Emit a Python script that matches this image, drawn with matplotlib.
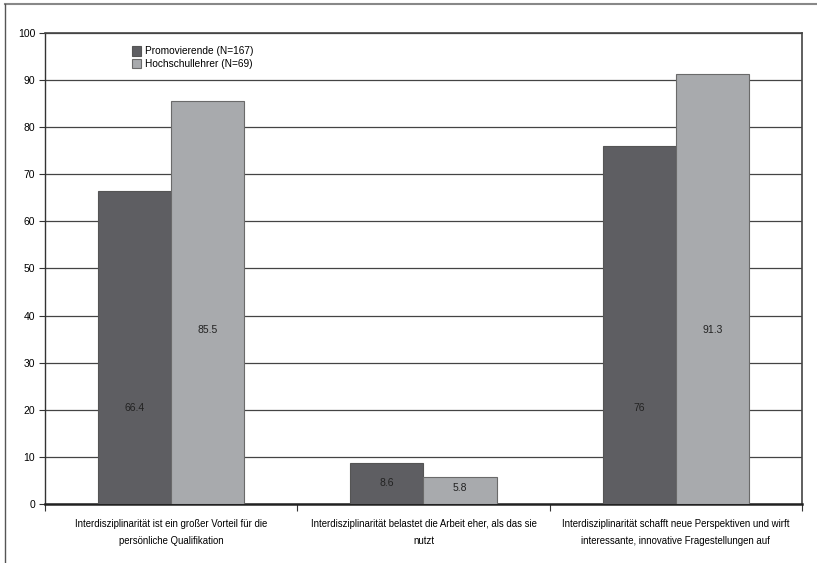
import numpy as np
import matplotlib
matplotlib.use("Agg")
from matplotlib import pyplot as plt
from matplotlib.lines import Line2D

# Data
categories = [
    "Interdisziplinarität ist ein großer Vorteil für die\npersönliche Qualifikation",
    "Interdisziplinarität belastet die Arbeit eher, als das sie\nnutzt",
    "Interdisziplinarität schafft neue Perspektiven und wirft\ninteressante, innovative Fragestellungen auf",
]
series_names = ["Promovierende (N=167)", "Hochschullehrer (N=69)"]
promovierende = [66.4, 8.6, 76]
hochschullehrer = [85.5, 5.8, 91.3]
value_labels_p = ["66.4", "8.6", "76"]
value_labels_h = ["85.5", "5.8", "91.3"]
yticks = list(range(0, 101, 10))

plt.rcParams['font.family'] = ['Liberation Sans', 'DejaVu Sans']

fig = plt.figure(figsize=(8.17, 5.63), dpi=100)
ax = fig.add_axes([0.0551, 0.1048, 0.9265, 0.8366])

dark = "#5e5e62"
light = "#a8aaad"
edge = "#555555"
width = 0.29
x = np.arange(len(categories))

ax.bar(x - width / 2, promovierende, width, color=dark, edgecolor=edge,
       linewidth=0.8, label=series_names[0], zorder=3)
ax.bar(x + width / 2, hochschullehrer, width, color=light, edgecolor="#6a6a6a",
       linewidth=0.8, label=series_names[1], zorder=3)

# label heights as seen in the picture
label_y_p = [20.4, 4.4, 20.4]
label_y_h = [36.9, 3.4, 36.9]
for i in range(len(categories)):
    ax.text(x[i] - width / 2, label_y_p[i], value_labels_p[i], ha="center", va="center",
            fontsize=7.5, color="#222222", zorder=4)
    ax.text(x[i] + width / 2, label_y_h[i], value_labels_h[i], ha="center", va="center",
            fontsize=7.5, color="#222222", zorder=4)

ax.set_xlim(-0.5, 2.5)
ax.set_ylim(0, 100)
ax.set_yticks(yticks)
ax.set_yticklabels([str(t) for t in yticks], fontsize=7.5)
ax.yaxis.grid(True, color="#444444", linewidth=0.9, zorder=0)
ax.set_axisbelow(True)

ax.set_xticks(x)
ax.set_xticklabels(categories, fontsize=6.9, linespacing=1.8)
ax.tick_params(axis="x", length=0, pad=11)
ax.tick_params(axis="y", length=4, width=0.8, color="#333333", pad=3)
# category separators below the axis
ax.set_xticks([-0.5, 0.5, 1.5, 2.5], minor=True)
ax.tick_params(axis="x", which="minor", length=5, width=0.8, color="#333333")

for s in ["top", "right"]:
    ax.spines[s].set_color("#444444")
    ax.spines[s].set_linewidth(1.2)
ax.spines["left"].set_color("#333333")
ax.spines["left"].set_linewidth(1.0)
ax.spines["bottom"].set_color("#222222")
ax.spines["bottom"].set_linewidth(1.8)

ax.legend(loc="upper left", bbox_to_anchor=(0.11, 0.98), frameon=False,
          fontsize=7.3, handlelength=0.9, handleheight=1.0, handletextpad=0.3,
          labelspacing=0.25, borderaxespad=0)

# outer frame of the original picture
fig.add_artist(Line2D([0.006, 1.0], [0.993, 0.993], color="#888888", linewidth=1.5))
fig.add_artist(Line2D([0.006, 0.006], [0.0, 0.993], color="#555555", linewidth=1.0))

plt.savefig("out.png", dpi=100)
plt.close()
